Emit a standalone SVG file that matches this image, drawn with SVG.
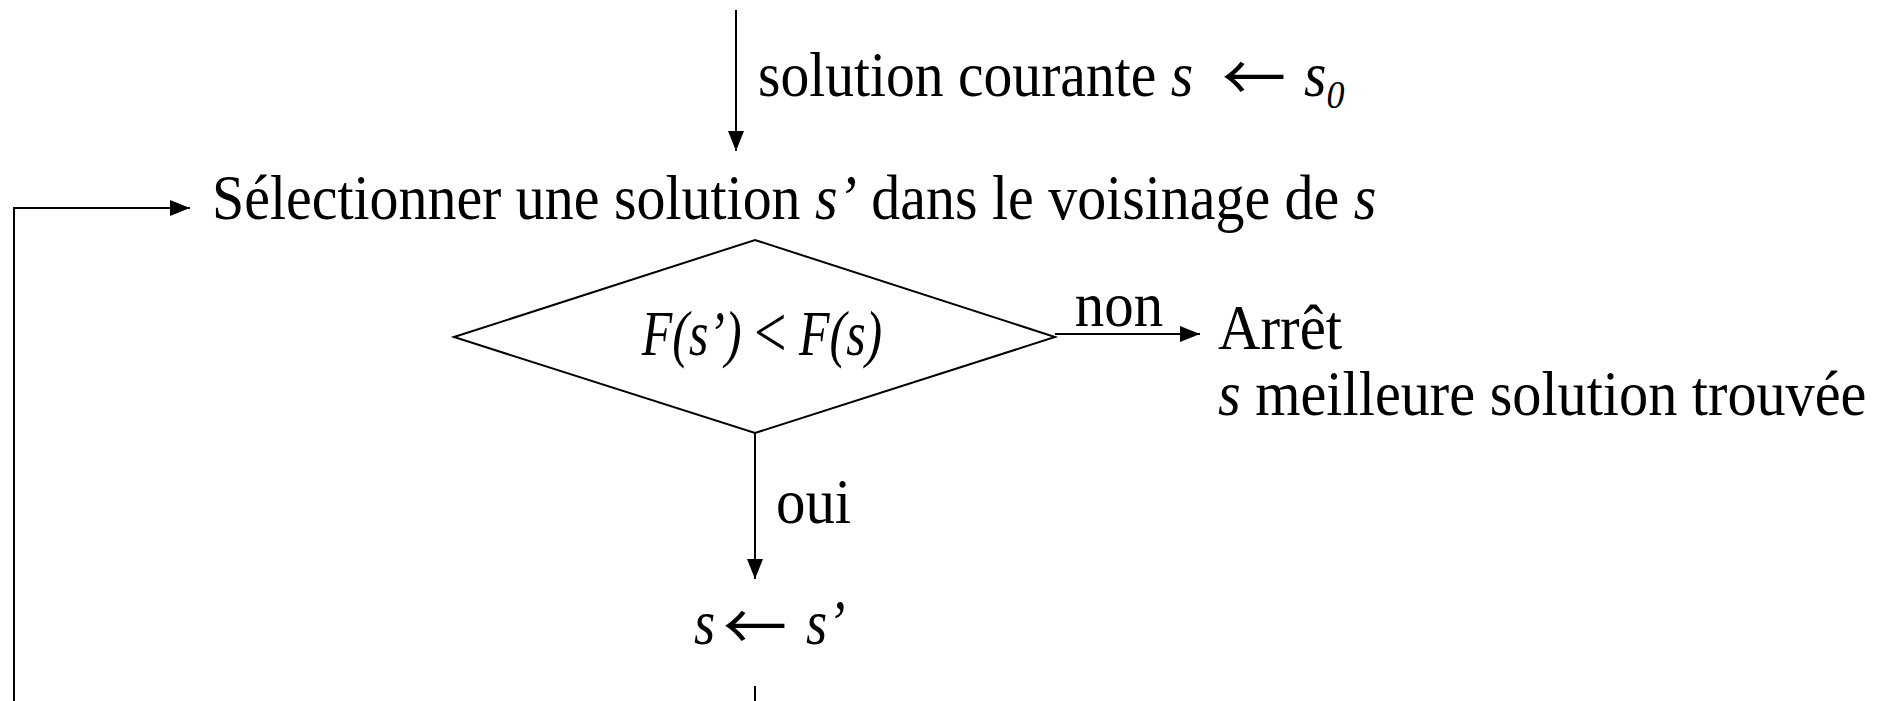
<svg xmlns="http://www.w3.org/2000/svg" width="1887" height="701" viewBox="0 0 1887 701">
<style>
.t{font-family:"Liberation Serif","DejaVu Serif",serif;font-size:64px;fill:#000}
.i{font-style:italic}
.ar{font-family:"Noto Sans CJK JP","Noto Sans CJK SC","DejaVu Sans",sans-serif;font-size:64px;fill:#000}
.ln{stroke:#000;stroke-width:2;fill:none}
</style>
<defs>
<marker id="ah" markerUnits="userSpaceOnUse" markerWidth="20" markerHeight="16" refX="20" refY="8" orient="auto">
<path d="M0,0 L20,8 L0,16 Z" fill="#000"/>
</marker>
</defs>
<rect width="1887" height="701" fill="#fff"/>
<g id="connectors">
<line class="ln" x1="736" y1="10" x2="736" y2="151" marker-end="url(#ah)"/>
<polyline class="ln" points="14,701 14,208 190,208" marker-end="url(#ah)"/>
<line class="ln" x1="1055" y1="334" x2="1200" y2="334" marker-end="url(#ah)"/>
<line class="ln" x1="755" y1="433" x2="755" y2="579" marker-end="url(#ah)"/>
<line class="ln" x1="755" y1="686" x2="755" y2="701"/>
</g>
<g id="label-init">
<text class="t" transform="translate(758,96) scale(0.9,1)">solution courante <tspan class="i">s</tspan></text>
<text class="ar" transform="translate(1222,101)">←</text>
<text class="t i" transform="translate(1304,96) scale(0.9,1)">s<tspan font-size="40" dy="12">0</tspan></text>
</g>
<g id="node-select">
<text class="t" transform="translate(212,219) scale(0.905,1)">Sélectionner une solution <tspan class="i">s’</tspan> dans le voisinage de <tspan class="i">s</tspan></text>
</g>
<g id="node-decision">
<polygon class="ln" points="454,337 755,240 1055,337 755,433"/>
<text class="t" text-anchor="middle" transform="translate(762,355) scale(0.78,1)"><tspan class="i">F(s’)</tspan> <tspan font-size="74" dy="2">&lt;</tspan> <tspan class="i" dy="-2">F(s)</tspan></text>
</g>
<g id="label-non">
<text class="t" text-anchor="middle" transform="translate(1119,326) scale(0.92,1)">non</text>
</g>
<g id="node-stop">
<text class="t" transform="translate(1218,349) scale(0.92,1)">Arrêt</text>
<text class="t" transform="translate(1218,415) scale(0.91,1)"><tspan class="i">s</tspan> meilleure solution trouvée</text>
</g>
<g id="label-oui">
<text class="t" transform="translate(776,523) scale(0.92,1)">oui</text>
</g>
<g id="node-update">
<text class="t i" transform="translate(694,644) scale(0.85,1)">s</text>
<text class="ar" transform="translate(723,650)">←</text>
<text class="t i" transform="translate(806,644) scale(0.85,1)">s’</text>
</g>
</svg>
